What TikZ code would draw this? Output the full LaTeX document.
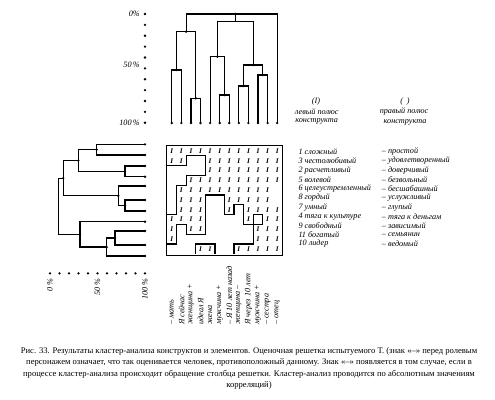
\documentclass[tikz,border=0pt]{standalone}
\usepackage{fontspec}
\setmainfont{Liberation Serif}
\begin{document}
\begin{tikzpicture}[x=1pt,y=-1pt,
  lbl/.style={font=\fontsize{8.2}{9}\selectfont\itshape, inner sep=0pt},
  captxt/.style={font=\fontsize{8.6}{9}\selectfont, inner sep=0pt},
  dotnode/.style={circle,fill,inner sep=0pt,minimum size=2.6pt},
  tree/.style={line width=1.1pt},
  mk/.style={font=\fontsize{7.2}{7}\selectfont\bfseries\itshape, inner sep=0pt},
  bnd/.style={line width=1.3pt, line cap=rect}]
\useasboundingbox (0,0) rectangle (495,399);

% ---------- top scale ----------
\foreach \k in {0,...,10} \node[dotnode] (ts\k) at (145,{14+10.87*\k}) {};
\node[lbl,anchor=east] (t0) at (140,14) {0\%};
\node[lbl,anchor=east] (t50) at (140,65) {50\,\%};
\node[lbl,anchor=east] (t100) at (140,123) {100\,\%};

% ---------- top dendrogram ----------
\foreach \i in {1,...,12} \node[dotnode] (L\i) at ({171.8+9.58*(\i-1)},123) {};
\node[dotnode] (A) at (176.6,70) {};
\node[dotnode] (B) at (195.75,98.3) {};
\node[dotnode] (C) at (186.2,31.7) {};
\node[dotnode] (D) at (224.5,95) {};
\node[dotnode] (E) at (217.3,56.7) {};
\node[dotnode] (F) at (243.65,86) {};
\node[dotnode] (G) at (262.8,75) {};
\node[dotnode] (H) at (253.2,65) {};
\coordinate (R) at (235.25,21.7);
\node[dotnode] (T) at (235.25,14) {};
\draw[tree] (L1.center) |- (A.center) -| (L2.center);
\draw[tree] (L3.center) |- (B.center) -| (L4.center);
\draw[tree] (A.center) |- (C.center) -| (B.center);
\draw[tree] (L6.center) |- (D.center) -| (L7.center);
\draw[tree] (L5.center) |- (E.center) -| (D.center);
\draw[tree] (L8.center) |- (F.center) -| (L9.center);
\draw[tree] (L10.center) |- (G.center) -| (L11.center);
\draw[tree] (F.center) |- (H.center) -| (G.center);
\draw[tree] (E.center) |- (R) -| (H.center);
\draw[tree] (R) -- (T.center);
\draw[tree] (C.center) |- (T.center) -| (L12.center);

% ---------- left dendrogram ----------
\foreach \k/\y in {0/144.3,1/155,2/166,3/176.7,4/186,5/200,6/211,7/221.7,8/231,9/245,10/256}
  \node[dotnode] (P\k) at (145,\y) {};
\node[dotnode] (N01) at (96.7,149.65) {};
\node[dotnode] (N23) at (125,171.35) {};
\node[dotnode] (N03) at (78.3,160.5) {};
\node[dotnode] (N56) at (125,205.5) {};
\node[dotnode] (N46) at (118.3,195.75) {};
\node[dotnode] (U) at (63.3,178.1) {};
\node[dotnode] (N89) at (115,238) {};
\node[dotnode] (N810) at (106.7,247) {};
\node[dotnode] (NL) at (80,234.35) {};
\coordinate (Root) at (58.3,206.2);
\draw[tree] (P0.center) -| (N01.center) |- (P1.center);
\draw[tree] (P2.center) -| (N23.center) |- (P3.center);
\draw[tree] (N01.center) -| (N03.center) |- (N23.center);
\draw[tree] (P5.center) -| (N56.center) |- (P6.center);
\draw[tree] (P4.center) -| (N46.center) |- (N56.center);
\draw[tree] (N03.center) -| (U.center) |- (N46.center);
\draw[tree] (P8.center) -| (N89.center) |- (P9.center);
\draw[tree] (N89.center) -| (N810.center) |- (P10.center);
\draw[tree] (P7.center) -| (NL.center) |- (N810.center);
\draw[tree] (U.center) -| (Root) |- (NL.center);

% bottom-left scale
\foreach \k in {0,...,10} \node[dotnode] (bs\k) at ({50+9.5*\k},273.3) {};
\node[lbl,rotate=90,anchor=east] (b0) at (50,278) {0 \%};
\node[lbl,rotate=90,anchor=east] (b50) at (97.5,278) {50 \%};
\node[lbl,rotate=90,anchor=east] (b100) at (145,278) {100 \%};

% ---------- grid ----------
\draw[line width=1pt] (166,145.5) rectangle (282,255);
\draw[line width=1.6pt] (166,145.5) -- (282,145.5);
\def\M{{1,1,1,1,1,1,1,1,1,1,1,1,
        1,1,0,0,1,1,1,1,1,1,1,1,
        0,0,0,0,1,1,1,1,1,1,1,1,
        0,0,1,1,1,1,1,1,1,1,1,1,
        0,1,1,1,1,1,1,1,1,1,1,2,
        0,1,1,1,0,0,1,1,1,1,1,2,
        0,1,1,1,0,0,1,0,1,1,1,1,
        1,1,1,1,0,0,0,0,1,0,1,1,
        1,0,1,1,0,0,0,0,0,1,1,1,
        1,0,0,0,0,0,0,0,0,1,1,1,
        0,0,0,1,1,0,0,1,1,1,1,1}}
\begin{scope}[shift={(167,146)},x=9.58pt,y=-9.8pt]
\foreach \j in {0,...,10} {
  \foreach \i in {0,...,11} {
    \pgfmathtruncatemacro\v{\M[\j*12+\i]}
    \pgfmathtruncatemacro\a{\v==0 ? 1 : 0}
    \ifnum\v=1 \node[mk] (m\j-\i) at (\i+0.5,\j+0.5) {I};\fi
    \ifnum\i<11
      \pgfmathtruncatemacro\w{\M[\j*12+\i+1]}
      \pgfmathtruncatemacro\b{\w==0 ? 1 : 0}
      \ifnum\a=\b\else \draw[bnd] (\i+1,\j) -- (\i+1,\j+1);\fi
    \fi
    \ifnum\j<10
      \pgfmathtruncatemacro\w{\M[(\j+1)*12+\i]}
      \pgfmathtruncatemacro\b{\w==0 ? 1 : 0}
      \ifnum\a=\b\else \draw[bnd] (\i,\j+1) -- (\i+1,\j+1);\fi
    \fi
  }
}
\end{scope}

% ---------- element labels ----------
\foreach \i/\t in {1/{– мать},2/{Я сейчас},3/{женщина +},4/{идеал Я},5/{жена},6/{мужчина +},7/{– Я 10 лет назад},8/{женщина –},9/{Я через 10 лет},10/{мужчина +},11/{– сестра},12/{– отец}}
  \node[lbl,rotate=90,anchor=west] (e\i) at ({171.8+9.58*(\i-1)},325) {\t};

% ---------- headers ----------
\node[lbl] (h1) at (316,101.7) {(I)};
\node[lbl] (h2) at (316.7,111.7) {левый полюс};
\node[lbl] (h3) at (316.7,121.7) {конструкта};
\node[lbl] (h4) at (405,101.7) {(\;\,)};
\node[lbl] (h5) at (404,111.7) {правый полюс};
\node[lbl] (h6) at (405,122.3) {конструкта};

% ---------- construct labels ----------
\foreach \j/\l/\r in {0/{1 сложный}/{– простой},1/{3 честолюбивый}/{– удовлетворенный},2/{2 расчетливый}/{– доверчивый},3/{5 волевой}/{– безвольный},4/{6 целеустремленный}/{– бесшабашный},5/{8 гордый}/{– услужливый},6/{7 умный}/{– глупый},7/{4 тяга к культуре}/{– тяга к деньгам},8/{9 свободный}/{– зависимый},9/{11 богатый}/{– семьянин},10/{10 лидер}/{– ведомый}} {
  \node[lbl,anchor=west] (cl\j) at (298.3,{151.7+9.23*\j}) {\l};
  \node[lbl,anchor=west] (cr\j) at (381.7,{151.7+9.23*\j}) {\r};
}

% ---------- caption ----------
\node[captxt] (c1) at (249,351) {Рис. 33. Результаты кластер-анализа конструктов и элементов. Оценочная решетка испытуемого Т. (знак «–» перед ролевым};
\node[captxt] (c2) at (249,362.5) {персонажем означает, что так оценивается человек, противоположный данному. Знак «–» появляется в том случае, если в};
\node[captxt] (c3) at (249,374) {процессе кластер-анализа происходит обращение столбца решетки. Кластер-анализ проводится по абсолютным значениям};
\node[captxt] (c4) at (249,385.5) {корреляций)};
\end{tikzpicture}
\end{document}
